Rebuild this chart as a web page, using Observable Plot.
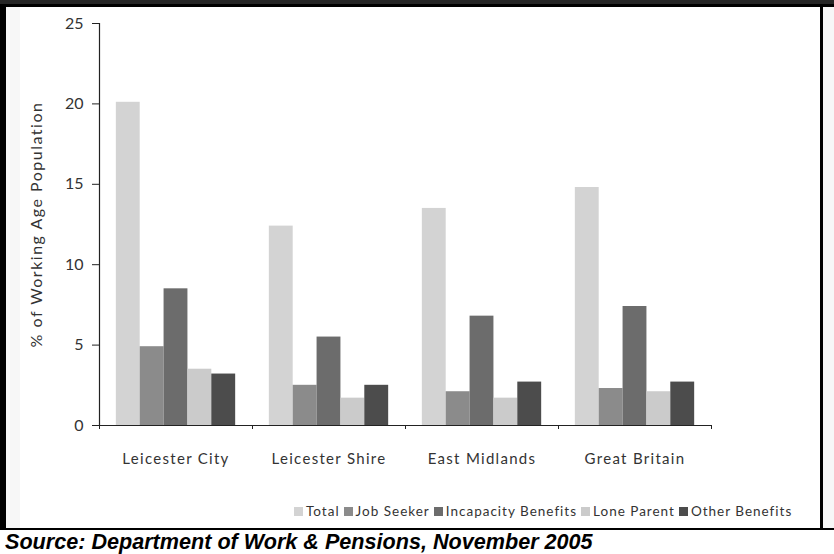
<!DOCTYPE html>
<html>
<head>
<meta charset="utf-8">
<script src="https://cdn.jsdelivr.net/npm/d3@7"></script>
<script src="https://cdn.jsdelivr.net/npm/@observablehq/plot@0.6"></script>
<style>
  html, body { margin: 0; padding: 0; background: #fff; }
  #page { position: relative; width: 834px; height: 554px; overflow: hidden; background: #fff; }
  #chart { position: absolute; left: 0; top: 0; }
  .band-top { position: absolute; left: 0; top: 0; width: 834px; height: 4px; background: #262626; }
  .band-top2 { position: absolute; left: 0; top: 4px; width: 834px; height: 3px; background: #000; }
  .border-left { position: absolute; left: 0; top: 7px; width: 6px; height: 523px; background: #000; }
  .stripe-left { position: absolute; left: 6px; top: 7px; width: 14px; height: 521px; background: #f7f7f7; }
  .border-right { position: absolute; left: 820px; top: 7px; width: 3px; height: 521px; background: #000; }
  .stripe-right { position: absolute; left: 823px; top: 7px; width: 11px; height: 521px; background: #f7f7f7; }
  .border-bottom { position: absolute; left: 0; top: 528px; width: 834px; height: 2px; background: #000; }
  #source { position: absolute; left: 5px; top: 529px; font: italic bold 21.6px "Liberation Sans", Arial, sans-serif; color: #000; white-space: nowrap; }
  #legend { position: absolute; left: 294px; top: 503px; }
  #legend .key-swatches { font-family: Lato, sans-serif; font-size: 13.5px; letter-spacing: 1px; color: #333; min-height: 0; margin: 0; }
  #legend .key-swatch { margin-right: 4px; }
  #legend .key-swatch svg { margin-right: 3px; }
  #chart [aria-label="x-axis tick label"] text { letter-spacing: 1.3px; }
  #chart [aria-label="y-axis label"] text { font-size: 16px; letter-spacing: 1.5px; }
</style>
</head>
<body>
<div id="page">
  <div class="stripe-left"></div>
  <div class="stripe-right"></div>
  <div id="chart"></div>
  <div id="legend"></div>
  <div class="band-top"></div>
  <div class="band-top2"></div>
  <div class="border-left"></div>
  <div class="border-right"></div>
  <div class="border-bottom"></div>
  <div id="source">Source: Department of Work &amp; Pensions, November 2005</div>
</div>
<script>
// Claimants as % of working age population, by area
const regions = ["Leicester City", "Leicester Shire", "East Midlands", "Great Britain"];
const series = ["Total", "Job Seeker", "Incapacity Benefits", "Lone Parent", "Other Benefits"];
const total = [20.1, 12.4, 13.5, 14.8];
const jobSeeker = [4.9, 2.5, 2.1, 2.3];
const incapacity = [8.5, 5.5, 6.8, 7.4];
const loneParent = [3.5, 1.7, 1.7, 2.1];
const otherBenefits = [3.2, 2.5, 2.7, 2.7];
const yTicks = [0, 5, 10, 15, 20, 25];
const colors = ["#d3d3d3", "#8b8b8b", "#6c6c6c", "#cbcbcb", "#4c4c4c"];

const valuesBySeries = [total, jobSeeker, incapacity, loneParent, otherBenefits];
const rows = regions.flatMap((region, i) =>
  series.map((s, j) => ({region, index: i, series: s, value: valuesBySeries[j][i]}))
);

// Bars of one area sit side by side inside that area's unit slot
const inner = d3.scaleBand(series, [0.11, 0.89]);

const chart = Plot.plot({
  width: 834,
  height: 470,
  marginLeft: 99,
  marginRight: 123,
  marginTop: 23,
  marginBottom: 45,
  style: {fontFamily: "Lato, sans-serif", fontSize: "15px", color: "#333", background: "transparent", overflow: "visible"},
  x: {domain: [0, regions.length]},
  y: {domain: [0, 25]},
  color: {domain: series, range: colors},
  marks: [
    Plot.rectY(rows, {
      x1: d => d.index + inner(d.series),
      x2: d => d.index + inner(d.series) + inner.bandwidth(),
      y: "value",
      fill: "series"
    }),
    Plot.ruleY([0], {stroke: "#222", strokeWidth: 1.2}),
    Plot.ruleX([0], {stroke: "#222", strokeWidth: 1.2}),
    Plot.axisX(d3.range(regions.length + 1), {tickSize: 4, tickFormat: () => "", label: null, stroke: "#222"}),
    Plot.axisX(regions.map((_, i) => i + 0.5), {
      tickSize: 0, tickPadding: 28, fontSize: 15, label: null,
      tickFormat: v => regions[Math.floor(v)]
    }),
    Plot.axisY(yTicks, {
      tickSize: 7, tickPadding: 9, fontSize: 16, stroke: "#222",
      label: "% of Working Age Population", labelAnchor: "center", labelOffset: 69, labelArrow: "none"
    })
  ]
});
document.getElementById("chart").append(chart);

const legend = Plot.legend({
  color: {domain: series, range: colors},
  legend: "swatches",
  swatchSize: 9,
  className: "key"
});
document.getElementById("legend").append(legend);
</script>
</body>
</html>
